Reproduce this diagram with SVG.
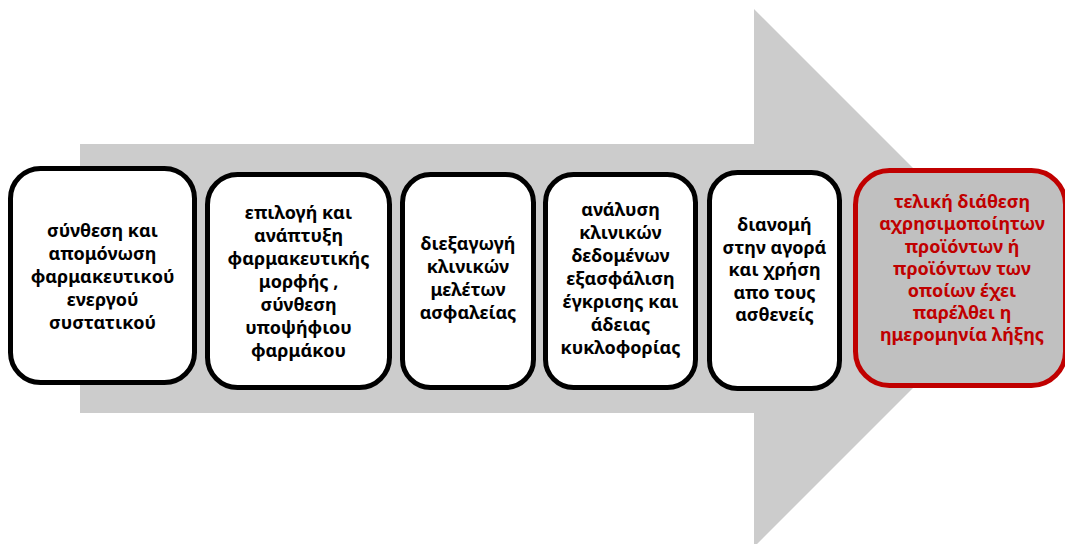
<svg xmlns="http://www.w3.org/2000/svg" width="1065" height="544" viewBox="0 0 1065 544">
<style>
.box{fill:#ffffff;stroke:#000000;stroke-width:5}
.last{fill:#c0c0c0;stroke:#c00000;stroke-width:5}
text{font-family:"Noto Sans","DejaVu Sans",sans-serif;font-weight:bold;font-size:18px;text-anchor:middle;fill:#000000}
.red{fill:#c00000}
</style>
<rect width="1065" height="544" fill="#ffffff"/>
<g id="arrow">
<polygon points="80,144 754,144 754,9 1023,278 754,547 754,413 80,413" fill="#cccccc"/>
</g>
<g id="connectors"></g>
<g id="n1">
<rect class="box" x="10.5" y="168.5" width="184" height="214" rx="30"/>
<text x="102.5" y="237">σύνθεση και</text>
<text x="102.5" y="260">απομόνωση</text>
<text x="102.5" y="283">φαρμακευτικού</text>
<text x="102.5" y="306">ενεργού</text>
<text x="102.5" y="329">συστατικού</text>
</g>
<g id="n2">
<rect class="box" x="207.5" y="174.5" width="182" height="213" rx="30"/>
<text x="298.5" y="219">επιλογή και</text>
<text x="298.5" y="242">ανάπτυξη</text>
<text x="298.5" y="265">φαρμακευτικής</text>
<text x="298.5" y="288">μορφής ,</text>
<text x="298.5" y="311">σύνθεση</text>
<text x="298.5" y="334">υποψήφιου</text>
<text x="298.5" y="357">φαρμάκου</text>
</g>
<g id="n3">
<rect class="box" x="402.5" y="174.5" width="131" height="213" rx="28"/>
<text x="468" y="250">διεξαγωγή</text>
<text x="468" y="273">κλινικών</text>
<text x="468" y="296">μελέτων</text>
<text x="468" y="319">ασφαλείας</text>
</g>
<g id="n4">
<rect class="box" x="545.5" y="174.5" width="150" height="213" rx="28"/>
<text x="620.5" y="216">ανάλυση</text>
<text x="620.5" y="239">κλινικών</text>
<text x="620.5" y="262">δεδομένων</text>
<text x="620.5" y="285">εξασφάλιση</text>
<text x="620.5" y="308">έγκρισης και</text>
<text x="620.5" y="331">άδειας</text>
<text x="620.5" y="354">κυκλοφορίας</text>
</g>
<g id="n5">
<rect class="box" x="709.5" y="172.5" width="130" height="216" rx="28"/>
<text x="774.5" y="231">διανομή</text>
<text x="774.5" y="253.5">στην αγορά</text>
<text x="774.5" y="276">και χρήση</text>
<text x="774.5" y="298.5">απο τους</text>
<text x="774.5" y="321">ασθενείς</text>
</g>
<g id="n6">
<rect class="last" x="855.5" y="170.5" width="210" height="215" rx="34"/>
<text class="red" x="962" y="208">τελική διάθεση</text>
<text class="red" x="962" y="230">αχρησιμοποίητων</text>
<text class="red" x="962" y="252.5">προϊόντων ή</text>
<text class="red" x="962" y="274.5">προϊόντων των</text>
<text class="red" x="962" y="296.5">οποίων έχει</text>
<text class="red" x="962" y="319">παρέλθει η</text>
<text class="red" x="962" y="341">ημερομηνία λήξης</text>
</g>
</svg>
